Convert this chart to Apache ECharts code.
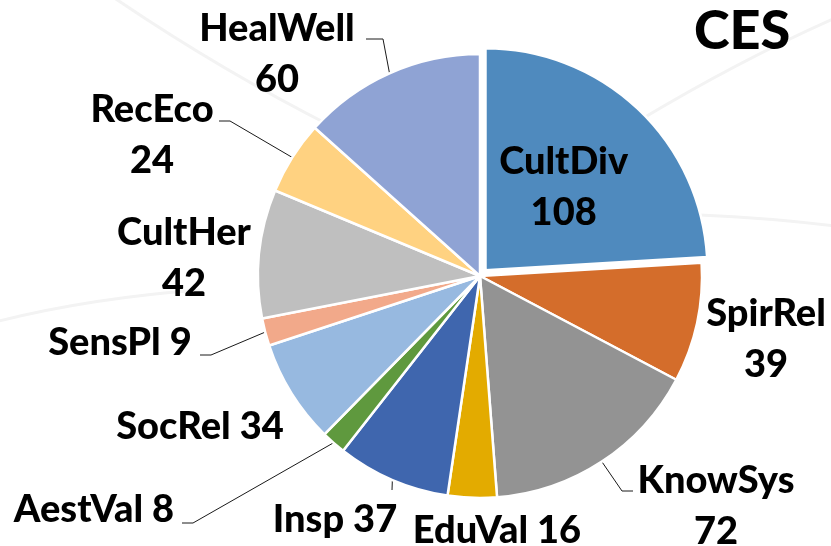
<!DOCTYPE html>
<html>
<head>
<meta charset="utf-8">
<script src="https://cdn.jsdelivr.net/npm/echarts@6/dist/echarts.min.js"></script>
<style>
html,body{margin:0;padding:0;background:#fff}
#main{width:831px;height:546px}
</style>
</head>
<body>
<div id="main"></div>
<script>
var names = ['CultDiv', 'SpirRel', 'KnowSys', 'EduVal', 'Insp', 'AestVal', 'SocRel', 'SensPl', 'CultHer', 'RecEco', 'HealWell'];
var values = [108, 39, 72, 16, 37, 8, 34, 9, 42, 24, 60];
var colors = ['#4f8abe', '#d46d2b', '#939393', '#e3ab00', '#3f66ae', '#5f993e', '#97b9e0', '#f2a98a', '#bfbfbf', '#ffd281', '#8fa3d4'];
var twoLine = [true, true, true, false, false, false, false, false, true, true, true];

// where each label sits, and the bends of the leader lines
var labelAt = [[571, 194], [766, 339], [716, 506], [497, 531], [335, 520], [94, 510], [200, 427], [120, 343], [184, 258], [152, 135], [277, 54]];
var leaders = {
    2: [[622, 491], [633, 491]],
    4: [[392, 490]],
    5: [[193, 523], [182, 523]],
    7: [[211, 355], [200, 355]],
    9: [[230, 121], [219, 121]],
    10: [[383, 39], [366, 39]]
};

var FONT = 'Lato';

var chart = echarts.init(document.getElementById('main'));

var data = names.map(function (n, i) {
    var item = {
        name: n,
        value: values[i],
        itemStyle: {color: colors[i]},
        label: {formatter: twoLine[i] ? '{b}\n{c}' : '{b} {c}'},
        labelLine: {show: !!leaders[i]}
    };
    if (i === 0) {
        item.selected = true;
        item.label.position = 'inside';
    }
    return item;
});

// faint background strokes
var bg = [
    [[110, -5], [220, 70], [335, 128]],
    [[835, 18], [740, 60], [640, 120]],
    [[700, 215], [770, 218], [835, 226]],
    [[-5, 322], [90, 298], [200, 290]]
].map(function (c) {
    return {
        type: 'bezierCurve',
        z: -10,
        silent: true,
        shape: {x1: c[0][0], y1: c[0][1], cpx1: c[1][0], cpy1: c[1][1], x2: c[2][0], y2: c[2][1]},
        style: {stroke: '#f3f3f3', lineWidth: 3, fill: null}
    };
});

chart.setOption({
    animation: false,
    backgroundColor: '#fff',
    title: {
        text: 'CES',
        left: 694,
        top: 5,
        padding: 0,
        textStyle: {fontFamily: FONT, fontWeight: 900, fontSize: 54, color: '#000'}
    },
    graphic: bg,
    series: [{
        type: 'pie',
        center: [480, 276],
        radius: 222,
        startAngle: 90,
        clockwise: true,
        avoidLabelOverlap: false,
        selectedMode: 'single',
        selectedOffset: 8,
        emphasis: {disabled: true},
        itemStyle: {borderColor: '#fff', borderWidth: 2.5},
        label: {
            show: true,
            color: '#000',
            fontFamily: FONT,
            fontWeight: 900,
            fontSize: 38,
            lineHeight: 51
        },
        labelLine: {lineStyle: {color: '#1a1a1a', width: 1}},
        labelLayout: function (p) {
            var i = p.dataIndex;
            var out = {x: labelAt[i][0], y: labelAt[i][1], align: 'center', verticalAlign: 'middle'};
            if (leaders[i] && p.labelLinePoints) {
                out.labelLinePoints = [p.labelLinePoints[0]].concat(leaders[i]);
            }
            return out;
        },
        data: data
    }]
});
</script>
</body>
</html>
